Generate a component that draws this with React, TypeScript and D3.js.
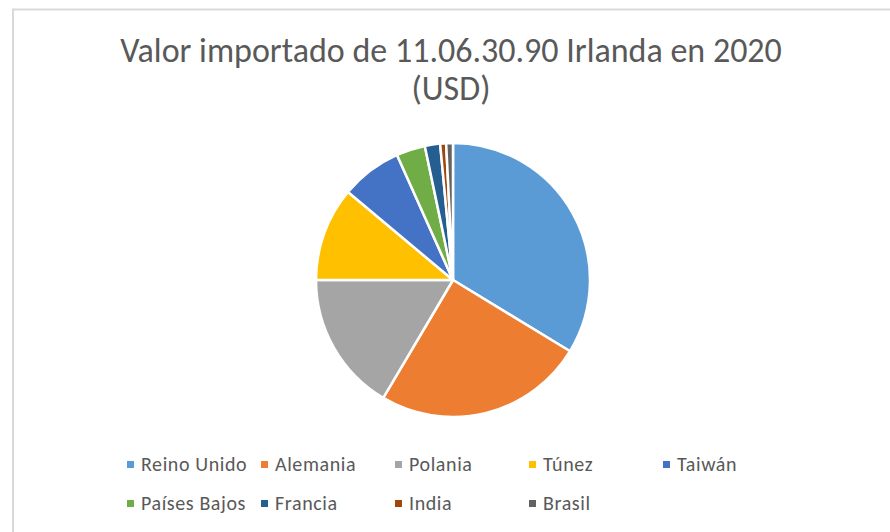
import React from "react";
import * as d3 from "d3";

const titleLines = ["Valor importado de 11.06.30.90 Irlanda en 2020", "(USD)"];
const categories = ["Reino Unido", "Alemania", "Polania", "Túnez", "Taiwán", "Países Bajos", "Francia", "India", "Brasil"];
const values = [33.7, 24.8, 16.5, 11.1, 7.2, 3.4, 1.8, 0.7, 0.8];
const colors = ["#5B9BD5", "#ED7D31", "#A5A5A5", "#FFC000", "#4472C4", "#70AD47", "#255E91", "#9E480E", "#636363"];

const W = 890;
const H = 532;
const FONT = "Carlito, Calibri, Lato, sans-serif";

export default function App() {
  const cx = 453;
  const cy = 280;
  const r = 137;
  const data = categories.map((c, i) => ({ name: c, value: values[i], color: colors[i] }));
  const pie = d3.pie<any>().value((d: any) => d.value).sort(null);
  const arcs = pie(data);
  const arc = d3.arc<any>().innerRadius(0).outerRadius(r);

  const legendX = d3.scaleLinear().domain([0, 1]).range([127, 261]);
  const legendRowY = [464, 503];

  return (
    <svg width={W} height={H} style={{ position: "absolute", left: 0, top: 0, background: "#fff" }}>
      <rect x={0} y={0} width={W} height={H} fill="#fff" />
      <rect x={13} y={9.5} width={W + 20} height={H + 20} fill="#fff" stroke="#d9d9d9" strokeWidth={2} />
      {titleLines.map((t, i) => (
        <text key={i} x={451} y={62 + i * 38} textAnchor="middle" fontFamily={FONT} fontSize={34} fill="#595959">
          {t}
        </text>
      ))}
      <g transform={`translate(${cx},${cy})`}>
        {arcs.map((a, i) => (
          <path key={i} d={arc(a) as string} fill={a.data.color} stroke="#fff" strokeWidth={2.5} strokeLinejoin="round" />
        ))}
      </g>
      {data.map((d, i) => {
        const row = i < 5 ? 0 : 1;
        const col = i < 5 ? i : i - 5;
        const x = legendX(col);
        const y = legendRowY[row];
        return (
          <g key={d.name}>
            <rect x={x} y={y - 3} width={7} height={7} fill={d.color} />
            <text x={x + 14} y={y} dominantBaseline="central" fontFamily={FONT} fontSize={20} letterSpacing={0.6} fill="#595959">
              {d.name}
            </text>
          </g>
        );
      })}
    </svg>
  );
}
